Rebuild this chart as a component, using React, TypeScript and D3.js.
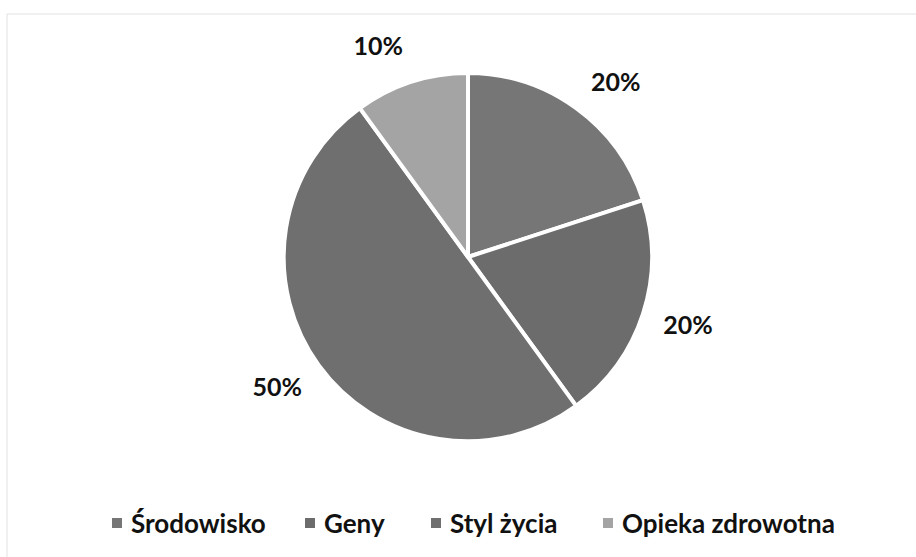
import * as d3 from "d3";

const categories = ["Środowisko", "Geny", "Styl życia", "Opieka zdrowotna"];
const values = [20, 20, 50, 10];
const colors = ["#767676", "#6c6c6c", "#6f6f6f", "#a4a4a4"];
// label placement tweak (degrees), like Excel's best fit
const labelShift = [4, -1, 2, -5];

const W = 916, H = 557;
const cx = 468, cy = 257, r = 184;
const font = "Lato, 'Open Sans', sans-serif";

export default function App() {
  const pie = d3.pie<number>().sort(null).value((d) => d);
  const arcs = pie(values);
  const arc = d3.arc<d3.PieArcDatum<number>>().innerRadius(0).outerRadius(r);
  const labelR = 230;

  // legend layout (text start of each entry)
  const legendY = 523;
  const legendX = [131, 324, 450, 622];

  return (
    <svg width={W} height={H} style={{ position: "absolute", left: 0, top: 0, background: "#fff" }}>
      <line x1={7} y1={14} x2={W} y2={14} stroke="#e2e2e2" strokeWidth={1} />
      <line x1={7} y1={14} x2={7} y2={H} stroke="#e2e2e2" strokeWidth={1} />
      <g transform={`translate(${cx},${cy})`}>
        {arcs.map((a, i) => (
          <path key={i} d={arc(a) || ""} fill={colors[i]} stroke="#fff" strokeWidth={4} strokeLinejoin="round" />
        ))}
        {arcs.map((a, i) => {
          const mid = (a.startAngle + a.endAngle) / 2 + (labelShift[i] * Math.PI) / 180;
          const x = Math.sin(mid) * labelR;
          const y = -Math.cos(mid) * labelR;
          return (
            <text key={i} x={x} y={y} textAnchor="middle" dominantBaseline="central"
              fontFamily={font} fontWeight="bold" fontSize={25} fill="#111">
              {values[i]}%
            </text>
          );
        })}
      </g>
      <g fontFamily={font} fontSize={26} fill="#111">
        {categories.map((c, i) => (
          <g key={c} transform={`translate(${legendX[i]},${legendY})`}>
            <rect x={-19} y={-5} width={10} height={10} fill={colors[i]} />
            <text x={0} y={0} dominantBaseline="central" fontWeight="bold">{c}</text>
          </g>
        ))}
      </g>
    </svg>
  );
}
